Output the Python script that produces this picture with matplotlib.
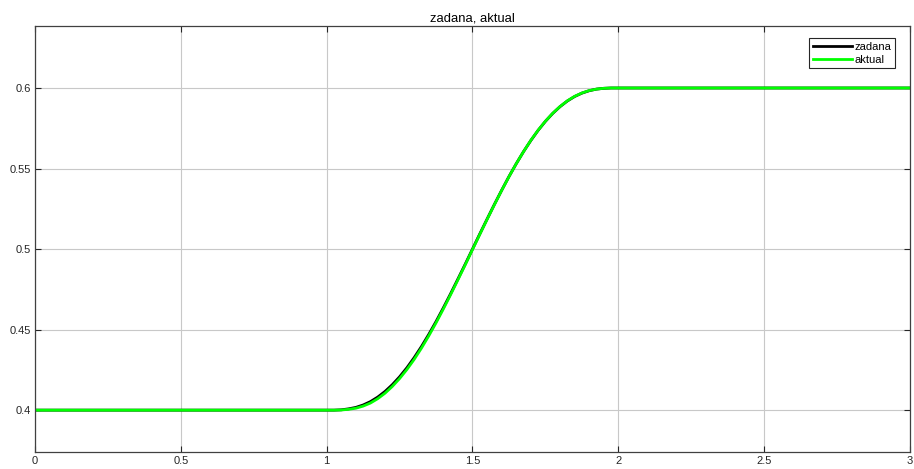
import matplotlib.pyplot as plt

plt.rcParams['font.family'] = ['Liberation Sans', 'DejaVu Sans']

# czas [s] i przebiegi: zadana / aktualna
t = [0.0, 1.0, 1.025, 1.05, 1.075, 1.1, 1.125, 1.15, 1.175, 1.2, 1.225,
     1.25, 1.275, 1.3, 1.325, 1.35, 1.375, 1.4, 1.425, 1.45, 1.475, 1.5,
     1.525, 1.55, 1.575, 1.6, 1.625, 1.65, 1.675, 1.7, 1.725, 1.75, 1.775,
     1.8, 1.825, 1.85, 1.875, 1.9, 1.925, 1.95, 1.975, 2.0, 3.0]
zadana = [0.4, 0.4, 0.4000, 0.4002, 0.4008, 0.4017, 0.4032, 0.4053, 0.4081,
          0.4116, 0.4158, 0.4207, 0.4263, 0.4326, 0.4395, 0.4470, 0.4550,
          0.4635, 0.4723, 0.4814, 0.4906, 0.5, 0.5094, 0.5186, 0.5277,
          0.5365, 0.5450, 0.5530, 0.5605, 0.5674, 0.5737, 0.5793, 0.5842,
          0.5884, 0.5919, 0.5947, 0.5968, 0.5983, 0.5993, 0.5998, 0.6000,
          0.6, 0.6]
aktual = [0.4, 0.4, 0.4000, 0.4001, 0.4005, 0.4012, 0.4025, 0.4044, 0.4071,
          0.4105, 0.4147, 0.4196, 0.4252, 0.4315, 0.4385, 0.4461, 0.4542,
          0.4628, 0.4717, 0.4809, 0.4902, 0.4997, 0.5091, 0.5184, 0.5275,
          0.5364, 0.5449, 0.5530, 0.5605, 0.5675, 0.5738, 0.5794, 0.5843,
          0.5885, 0.5920, 0.5948, 0.5969, 0.5984, 0.5993, 0.5998, 0.6000,
          0.6, 0.6]

xticks = [0, 0.5, 1, 1.5, 2, 2.5, 3]
xlabels = ['0', '0.5', '1', '1.5', '2', '2.5', '3']
yticks = [0.4, 0.45, 0.5, 0.55, 0.6]
ylabels = ['0.4', '0.45', '0.5', '0.55', '0.6']

fig = plt.figure(figsize=(9.14, 4.69), dpi=100)
ax = fig.add_axes([0.0383, 0.0362, 0.9573, 0.9084])

ax.plot(t, zadana, color='black', lw=2.0, label='zadana', solid_joinstyle='round')
ax.plot(t, aktual, color='#00ff00', lw=2.0, label='aktual', solid_joinstyle='round')

ax.set_xlim(0, 3)
ax.set_ylim(0.374, 0.6385)
ax.set_xticks(xticks)
ax.set_xticklabels(xlabels)
ax.set_yticks(yticks)
ax.set_yticklabels(ylabels)
ax.tick_params(direction='in', length=4, width=0.8, colors='#262626',
               labelsize=8, top=True, right=True, pad=3)
ax.grid(True, color='#c8c8c8', lw=0.8)
for s in ax.spines.values():
    s.set_color('#404040')
    s.set_linewidth(0.9)

ax.set_title('zadana, aktual', fontsize=9.4, pad=3)

leg = ax.legend(loc='upper right', fontsize=8, handlelength=3.5,
                handletextpad=0.2, borderpad=0.35, labelspacing=0.25,
                fancybox=False, framealpha=1, edgecolor='#262626',
                borderaxespad=0, bbox_to_anchor=(0.983, 0.972))
leg.get_frame().set_linewidth(0.8)
for line in leg.get_lines():
    line.set_linewidth(2.0)

fig.savefig('out.png', dpi=100)
